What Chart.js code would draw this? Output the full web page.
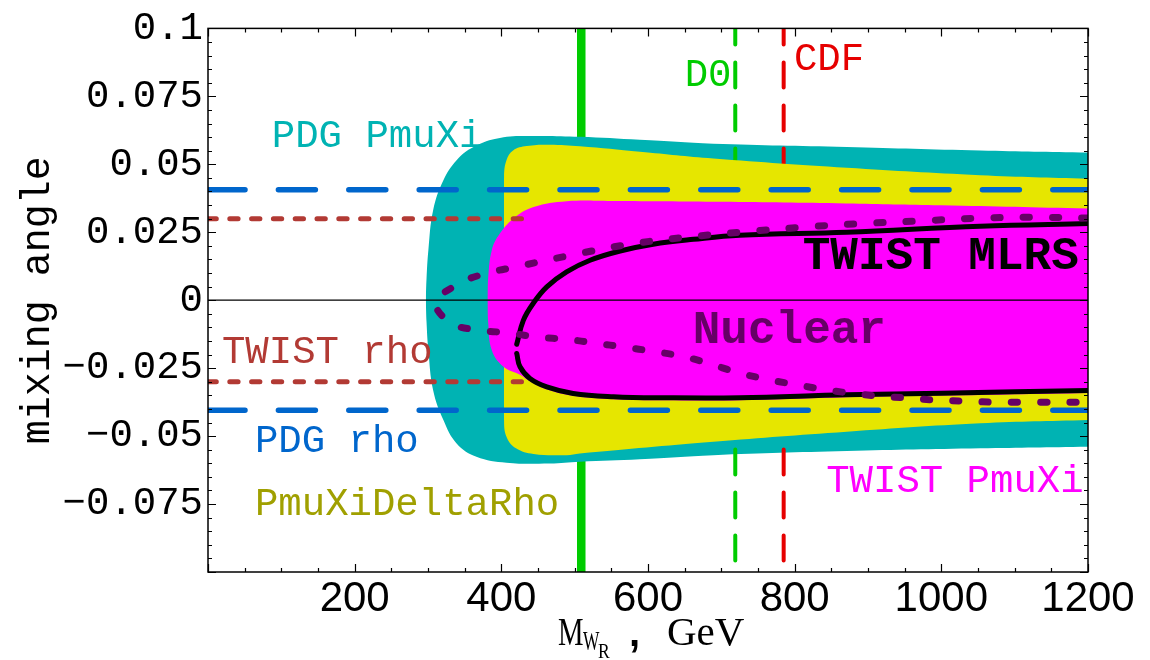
<!DOCTYPE html>
<html>
<head>
<meta charset="utf-8">
<script src="https://cdn.jsdelivr.net/npm/chart.js@4.4.1/dist/chart.umd.min.js"></script>
<style>
  html, body { margin: 0; padding: 0; background: #fff; }
  #wrap { width: 1150px; height: 660px; }
</style>
</head>
<body>
<div id="wrap"><canvas id="graficaMezcla" width="1150" height="660"></canvas></div>
<script>
// x = M_WR (GeV), y = mixing angle
const xTicks = [200, 400, 600, 800, 1000, 1200];
const yTicks = [0.1, 0.075, 0.05, 0.025, 0, -0.025, -0.05, -0.075];

// regiones permitidas (borde superior / inferior)
const tealUpper = [[297,0],[298,0.008],[300.5,0.0184],[307,0.0331],[321,0.0441],[339,0.0515],[362,0.0564],[398,0.0597],[444,0.0604],[507,0.0601],[589,0.059],[689,0.0576],[871,0.0564],[1053,0.0551],[1200,0.0543]];
const tealLower = [[297,0],[298,-0.008],[300.5,-0.0184],[307,-0.0331],[321,-0.0441],[339,-0.0527],[366,-0.0576],[407,-0.0598],[466,-0.0601],[507,-0.0594],[589,-0.0585],[689,-0.057],[871,-0.0555],[1053,-0.0545],[1200,-0.0539]];

const yellowUpper = [[403.6,0],[403.7,0.0453],[407,0.0515],[416,0.0551],[434.6,0.0567],[466,0.0572],[507,0.0566],[589,0.0546],[689,0.0521],[871,0.0487],[1053,0.046],[1200,0.0447]];
const yellowLower = [[403.6,0],[403.7,-0.0441],[407,-0.0502],[420,-0.0545],[444,-0.0566],[489,-0.057],[507,-0.0564],[689,-0.0521],[871,-0.0484],[1053,-0.0453],[1200,-0.0441]];

const magentaUpper = [[381,0],[382,0.008],[387,0.0184],[398,0.0245],[419,0.0306],[444,0.0343],[489,0.0364],[550,0.0365],[700,0.0362],[870,0.0356],[1000,0.0349],[1200,0.0337]];
const magentaLower = [[381,0],[382,-0.008],[387,-0.0184],[403,-0.0245],[426,-0.0275],[439,-0.0298],[462,-0.0328],[498,-0.0352],[553,-0.0364],[621,-0.0368],[725,-0.0368],[870,-0.0357],[1000,-0.0351],[1200,-0.0341]];

// TWIST MLRS (dos ramas)
const mlrsUpper = [[421,-0.0162],[430,-0.0074],[443.6,-0.0011],[462,0.0049],[489,0.0104],[521,0.0147],[562,0.0181],[607,0.0206],[662,0.0224],[725,0.0239],[871,0.025],[1053,0.0272],[1200,0.0282]];
const mlrsLower = [[421,-0.0196],[425.5,-0.0245],[439,-0.0288],[462,-0.0319],[498,-0.0343],[553,-0.0355],[621,-0.0359],[725,-0.0359],[870,-0.0348],[1000,-0.0342],[1200,-0.0332]];

// Nuclear (punteada)
const nuclearUpper = [[344,0.0063],[380,0.0099],[419,0.0122],[496,0.0166],[575,0.0206],[653,0.0232],[730,0.0251],[807,0.0268],[885,0.0281],[967,0.0291],[1043,0.0301],[1121,0.0305],[1200,0.0302]];
const nuclearLower = [[311,-0.001],[333,-0.0086],[371,-0.011],[412,-0.0121],[450,-0.0136],[490,-0.0144],[528,-0.0158],[569,-0.0173],[606,-0.0188],[646,-0.0206],[682,-0.0232],[721,-0.0265],[760,-0.029],[798,-0.0309],[837,-0.0327],[876,-0.0342],[916,-0.0353],[953,-0.036],[994,-0.0368],[1030,-0.0371],[1070,-0.0375],[1111,-0.0375],[1200,-0.0376]];

// limites horizontales y masas
const pdgRhoLimits = [0.0406, -0.0405];
const twistRhoLimits = [0.030, -0.030];
const twistRhoEnd = 432;
const wrMassSolid = 509;
const d0Mass = 719;
const cdfMass = 785;

const TEAL = 'rgb(0,179,179)';
const YELLOW = 'rgb(230,230,0)';
const MAGENTA = 'rgb(255,0,255)';
const PURPLE = 'rgb(102,0,102)';
const BLUE = 'rgb(0,102,204)';
const BROWN = 'rgb(178,58,52)';
const GREEN = 'rgb(0,204,0)';
const RED = 'rgb(230,0,0)';
const OLIVE = 'rgb(160,160,0)';

function pts(arr) {
    return arr.map(p => ({ x: p[0], y: p[1] }));
}

function banda(upper, lower, color, order) {
    return [{
        data: pts(upper), backgroundColor: color, borderColor: 'rgba(0,0,0,0)', borderWidth: 0,
        fill: '+1', tension: 0.4, order: order, clip: 0
    }, {
        data: pts(lower), borderColor: 'rgba(0,0,0,0)', borderWidth: 0,
        fill: false, tension: 0.4, order: order, clip: 0
    }];
}

function linea(data, color, width, dash, order, extra) {
    return Object.assign({
        data: data, borderColor: color, borderWidth: width, borderDash: dash || [],
        borderCapStyle: 'round', borderJoinStyle: 'round', fill: false, order: order, clip: 0
    }, extra || {});
}

function hline(v, x0, x1) { return pts([[x0, v], [x1, v]]); }
function vline(m) { return pts([[m, 0.1], [m, -0.1]]); }

const datasets = [].concat(
    [linea(pts(nuclearUpper.slice().reverse().concat(nuclearLower)), PURPLE, 7, [6.3, 23], 1, { tension: 0.4 })],
    [linea(pts(mlrsUpper), '#000', 5, [], 2, { tension: 0.4 }),
     linea(pts(mlrsLower), '#000', 5, [], 2, { tension: 0.4 })],
    pdgRhoLimits.map(v => linea(hline(v, 0, 1200), BLUE, 5.5, [37, 33.4], 3)),
    twistRhoLimits.map(v => linea(hline(v, 0, twistRhoEnd), BROWN, 5, [8.3, 13.5], 3)),
    [linea(hline(0, 0, 1200), '#000', 1.2, [], 4, { borderCapStyle: 'butt' })],
    banda(magentaUpper, magentaLower, MAGENTA, 5),
    banda(yellowUpper, yellowLower, YELLOW, 6),
    [linea(vline(d0Mass), GREEN, 4, [25, 18], 7, { borderDashOffset: 9 }),
     linea(vline(cdfMass), RED, 4, [25, 18], 7, { borderDashOffset: 9 })],
    banda(tealUpper, tealLower, TEAL, 8),
    [linea(vline(wrMassSolid), GREEN, 8.5, [], 9, { borderCapStyle: 'butt' })]
);

// textos dentro del grafico (x en GeV, y = angulo de la linea base)
const etiquetas = [
    { text: 'PDG PmuXi', x: 87, y: 0.0562, color: TEAL },
    { text: 'TWIST rho', x: 19, y: -0.0230, color: BROWN },
    { text: 'PDG rho', x: 64, y: -0.0558, color: BLUE },
    { text: 'PmuXiDeltaRho', x: 64, y: -0.0790, color: OLIVE },
    { text: 'D0', x: 650, y: 0.0787, color: GREEN },
    { text: 'CDF', x: 799, y: 0.0846, color: RED },
    { text: 'TWIST MLRS', x: 811, y: 0.0114, color: '#000', bold: true },
    { text: 'Nuclear', x: 661, y: -0.0157, color: PURPLE, bold: true },
    { text: 'TWIST PmuXi', x: 843, y: -0.0705, color: MAGENTA }
];

function formatAngle(v) {
    const r = Math.round(v * 1000) / 1000;
    if (r === 0) return '0';
    return r < 0 ? '\u2212' + String(-r) : String(r);
}

function textoEstrecho(ctx, text, x, y, font, sx) {
    ctx.save();
    ctx.font = font;
    ctx.translate(x, y);
    ctx.scale(sx, 1);
    ctx.fillText(text, 0, 0);
    ctx.restore();
}

const marcoPlugin = {
    id: 'marco',
    afterDatasetsDraw(chart) {
        const { ctx, chartArea: a, scales: { x, y } } = chart;
        ctx.save();
        ctx.strokeStyle = '#000';
        ctx.lineWidth = 1.5;
        ctx.strokeRect(a.left, a.top, a.right - a.left, a.bottom - a.top);
        ctx.lineWidth = 1.2;
        ctx.beginPath();
        for (let k = -100; k <= 100; k += 5) {
            const py = Math.round(y.getPixelForValue(k / 1000)) + 0.5;
            const len = k % 25 === 0 ? 8 : 4;
            ctx.moveTo(a.left, py); ctx.lineTo(a.left + len, py);
            ctx.moveTo(a.right, py); ctx.lineTo(a.right - len, py);
        }
        for (let m = 0; m <= 1200; m += 50) {
            const px = Math.round(x.getPixelForValue(m)) + 0.5;
            const len = m % 200 === 0 ? 8 : 4;
            ctx.moveTo(px, a.bottom); ctx.lineTo(px, a.bottom - len);
            ctx.moveTo(px, a.top); ctx.lineTo(px, a.top + len);
        }
        ctx.stroke();
        ctx.restore();
    },
    afterDraw(chart) {
        const { ctx, chartArea: a, scales: { x, y } } = chart;
        ctx.save();
        ctx.textBaseline = 'alphabetic';
        ctx.textAlign = 'left';
        etiquetas.forEach(e => {
            ctx.font = (e.bold ? 'bold 46px' : '39px') + ' "Liberation Mono"';
            ctx.fillStyle = e.color;
            ctx.fillText(e.text, x.getPixelForValue(e.x), y.getPixelForValue(e.y));
        });

        // titulo del eje x: M_{W_R} , GeV
        const cx = (a.left + a.right) / 2;
        const base = a.bottom + 73;
        ctx.fillStyle = '#000';
        textoEstrecho(ctx, 'M', cx - 90, base, '41px "Liberation Serif"', 0.7);
        textoEstrecho(ctx, 'W', cx - 65, base + 5, '28px "Liberation Serif"', 0.62);
        textoEstrecho(ctx, 'R', cx - 50, base + 13, '22px "Liberation Serif"', 0.8);
        ctx.font = 'bold 40px "Liberation Sans"';
        ctx.fillText(',', cx - 19, base + 1);
        ctx.font = '41px "Liberation Serif"';
        ctx.fillText('GeV', cx + 19, base);
        ctx.restore();
    }
};

const ctx = document.getElementById('graficaMezcla').getContext('2d');
new Chart(ctx, {
    type: 'line',
    data: { datasets: datasets },
    options: {
        responsive: false,
        animation: false,
        events: [],
        layout: { padding: { left: 0, right: 62, top: 28, bottom: 0 } },
        elements: {
            point: { radius: 0 },
            line: { capBezierPoints: false }
        },
        plugins: {
            legend: { display: false },
            tooltip: { enabled: false },
            filler: { drawTime: 'beforeDatasetDraw', propagate: false }
        },
        scales: {
            x: {
                type: 'linear', min: 0, max: 1200,
                afterBuildTicks: s => { s.ticks = xTicks.map(v => ({ value: v })); },
                afterFit: s => { s.height = 88; },
                grid: { display: false, drawTicks: false },
                border: { display: false },
                ticks: {
                    color: '#000', padding: 6, maxRotation: 0, autoSkip: false,
                    font: { family: 'Liberation Sans', size: 42, lineHeight: 1 },
                    callback: v => String(v)
                }
            },
            y: {
                type: 'linear', min: -0.1, max: 0.1,
                afterBuildTicks: s => { s.ticks = yTicks.map(v => ({ value: v })); },
                afterFit: s => { s.width = 208; },
                grid: { display: false, drawTicks: false },
                border: { display: false },
                ticks: {
                    color: '#000', padding: 5, autoSkip: false,
                    font: { family: 'Liberation Mono', size: 39 },
                    callback: v => formatAngle(v)
                },
                title: {
                    display: true, text: 'mixing angle', color: '#000',
                    font: { family: 'Liberation Mono', size: 40, lineHeight: 1 },
                    padding: { top: 18, bottom: 0 }
                }
            }
        }
    },
    plugins: [marcoPlugin]
});
</script>
</body>
</html>
